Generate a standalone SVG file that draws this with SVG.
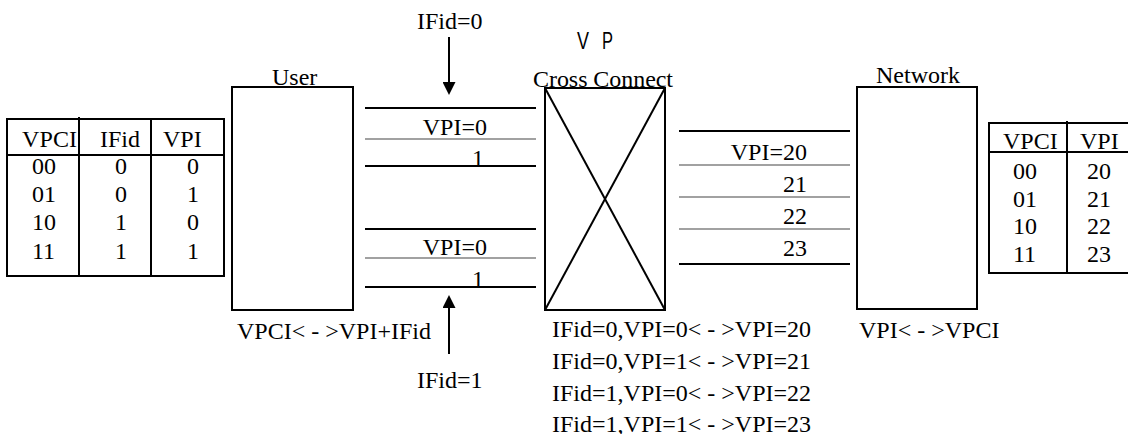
<svg xmlns="http://www.w3.org/2000/svg" width="1128" height="434" viewBox="0 0 1128 434">
<style>
text{font-family:"Liberation Serif","Times New Roman",serif;font-size:24px;fill:#000}
.sans{font-family:"Liberation Sans",Arial,sans-serif;font-size:23px}
.box{fill:#fff;stroke:#000;stroke-width:2}
.thick{stroke:#000;stroke-width:2}
.thin{stroke:#444;stroke-width:1.2}
.e{text-anchor:end}
</style>
<defs>
<marker id="ah" viewBox="0 0 10 10" refX="0" refY="5" markerWidth="13" markerHeight="13" markerUnits="userSpaceOnUse" orient="auto">
<path d="M0,0 L10,5 L0,10 z" fill="#000"/>
</marker>
</defs>
<rect width="1128" height="434" fill="#fff"/>

<g id="user-table">
<rect class="box" x="7" y="119" width="217" height="157"/>
<line class="thick" x1="7" y1="155" x2="224" y2="155"/>
<line class="thick" x1="79" y1="117" x2="79" y2="276"/>
<line class="thick" x1="151" y1="119" x2="151" y2="276"/>
<text x="22" y="147" textLength="55">VPCI</text>
<text x="100" y="147">IFid</text>
<text x="163" y="147">VPI</text>
<text x="32" y="174">00</text><text x="115" y="174">0</text><text x="187" y="174">0</text>
<text x="32" y="202">01</text><text x="115" y="202">0</text><text x="187" y="202">1</text>
<text x="32" y="230">10</text><text x="115" y="230">1</text><text x="187" y="230">0</text>
<text x="32" y="259">11</text><text x="115" y="259">1</text><text x="187" y="259">1</text>
</g>

<g id="user">
<rect class="box" x="232" y="87" width="121" height="223"/>
<text x="272" y="85">User</text>
<text x="237" y="339">VPCI&lt; - &gt;VPI+IFid</text>
</g>

<g id="cross-connect">
<rect class="box" x="545" y="88" width="120" height="222"/>
<line class="thick" x1="545" y1="88" x2="665" y2="310"/>
<line class="thick" x1="665" y1="88" x2="545" y2="310"/>
<text class="sans" x="577" y="49" textLength="12" lengthAdjust="spacingAndGlyphs">V</text>
<text class="sans" x="602" y="49" textLength="11" lengthAdjust="spacingAndGlyphs">P</text>
<text x="533" y="87" textLength="140">Cross Connect</text>
<text x="552" y="337">IFid=0,VPI=0&lt; - &gt;VPI=20</text>
<text x="552" y="369">IFid=0,VPI=1&lt; - &gt;VPI=21</text>
<text x="552" y="401">IFid=1,VPI=0&lt; - &gt;VPI=22</text>
<text x="552" y="432">IFid=1,VPI=1&lt; - &gt;VPI=23</text>
</g>

<g id="network">
<rect class="box" x="857" y="87" width="120" height="222"/>
<text x="876" y="83">Network</text>
<text x="859" y="338">VPI&lt; - &gt;VPCI</text>
</g>

<g id="network-table">
<rect class="box" x="989" y="123" width="150" height="150"/>
<line class="thick" x1="989" y1="152" x2="1128" y2="152"/>
<line class="thick" x1="1067" y1="121" x2="1067" y2="273"/>
<text x="1003" y="149">VPCI</text>
<text x="1080" y="149">VPI</text>
<text x="1013" y="179">00</text><text x="1087" y="179">20</text>
<text x="1013" y="207">01</text><text x="1087" y="207">21</text>
<text x="1013" y="234">10</text><text x="1087" y="234">22</text>
<text x="1013" y="262">11</text><text x="1087" y="262">23</text>
</g>

<g id="ifid0">
<text x="417" y="29">IFid=0</text>
</g>
<g id="ifid1">
<text x="417" y="388">IFid=1</text>
</g>

<g id="connectors">
<line class="thick" x1="449" y1="37" x2="449" y2="82" marker-end="url(#ah)"/>
<line class="thick" x1="449" y1="354" x2="449" y2="308" marker-end="url(#ah)"/>
<line class="thick" x1="365" y1="108" x2="536" y2="108"/>
<line class="thin" x1="365" y1="139" x2="536" y2="139"/>
<line class="thick" x1="365" y1="166" x2="536" y2="166"/>
<line class="thick" x1="365" y1="229" x2="536" y2="229"/>
<line class="thin" x1="365" y1="258" x2="536" y2="258"/>
<line class="thick" x1="365" y1="287" x2="536" y2="287"/>
<text class="e" x="487" y="135">VPI=0</text>
<text class="e" x="484" y="166">1</text>
<text class="e" x="487" y="255">VPI=0</text>
<text class="e" x="484" y="287">1</text>
<line class="thick" x1="679" y1="131" x2="850" y2="131"/>
<line class="thin" x1="679" y1="165" x2="850" y2="165"/>
<line class="thin" x1="679" y1="197" x2="850" y2="197"/>
<line class="thin" x1="679" y1="229" x2="850" y2="229"/>
<line class="thick" x1="679" y1="264" x2="850" y2="264"/>
<text class="e" x="807" y="160">VPI=20</text>
<text class="e" x="807" y="192">21</text>
<text class="e" x="807" y="224">22</text>
<text class="e" x="807" y="256">23</text>
</g>
</svg>
